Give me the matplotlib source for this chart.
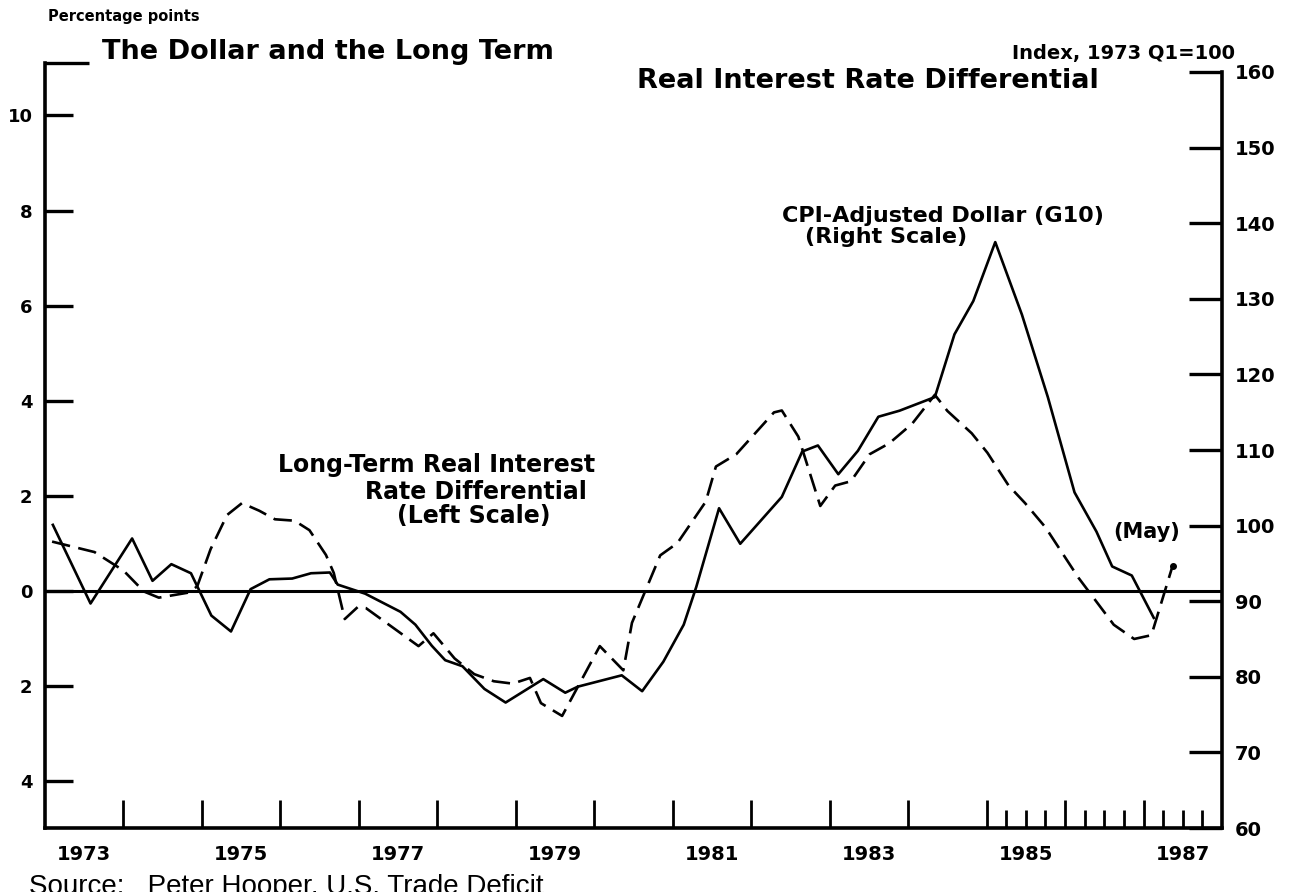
import numpy as np
import matplotlib.pyplot as plt

# CPI-adjusted dollar (G10), index 1973 Q1 = 100 (right scale)
dollar_years = [1973.10, 1973.58, 1974.11, 1974.37, 1974.61, 1974.86, 1975.12, 1975.37,
                1975.62, 1975.86, 1976.15, 1976.39, 1976.63, 1976.73, 1977.08, 1977.53,
                1977.72, 1977.93, 1978.10, 1978.32, 1978.60, 1978.87, 1979.35, 1979.63,
                1979.79, 1980.35, 1980.61, 1980.88, 1981.14, 1981.30, 1981.59, 1981.86,
                1982.39, 1982.65, 1982.85, 1983.11, 1983.36, 1983.62, 1983.89, 1984.34,
                1984.59, 1984.83, 1985.11, 1985.45, 1985.78, 1986.12, 1986.40, 1986.60,
                1986.85, 1987.13]
dollar_index = [100.1, 89.7, 98.3, 92.7, 94.9, 93.7, 88.1, 86.0,
                91.6, 92.9, 93.0, 93.7, 93.8, 92.2, 91.0, 88.6,
                86.9, 84.1, 82.2, 81.4, 78.4, 76.6, 79.7, 77.9,
                78.7, 80.2, 78.1, 82.0, 86.9, 91.9, 102.3, 97.6,
                103.8, 109.8, 110.6, 106.8, 109.9, 114.4, 115.2, 117.0,
                125.3, 129.7, 137.5, 127.9, 117.0, 104.4, 99.2, 94.6,
                93.4, 87.8]

# long-term real interest rate differential, percentage points (left scale)
diff_years = [1973.09, 1973.63, 1974.00, 1974.26, 1974.45, 1974.84, 1974.94, 1975.11,
              1975.32, 1975.51, 1975.73, 1975.93, 1976.18, 1976.37, 1976.58, 1976.68,
              1976.82, 1976.99, 1977.09, 1977.76, 1977.95, 1978.22, 1978.47, 1978.72,
              1978.96, 1979.18, 1979.32, 1979.59, 1980.07, 1980.37, 1980.48, 1980.84,
              1981.06, 1981.42, 1981.55, 1981.81, 1982.29, 1982.39, 1982.60, 1982.88,
              1983.07, 1983.27, 1983.51, 1983.76, 1984.05, 1984.34, 1984.50, 1984.81,
              1985.01, 1985.28, 1985.49, 1985.75, 1986.17, 1986.62, 1986.88, 1987.10,
              1987.37]
diff_pct = [1.03, 0.81, 0.42, -0.02, -0.15, -0.04, 0.09, 0.87,
            1.59, 1.84, 1.68, 1.50, 1.47, 1.27, 0.75, 0.37,
            -0.60, -0.34, -0.37, -1.17, -0.90, -1.43, -1.76, -1.91,
            -1.96, -1.84, -2.37, -2.64, -1.17, -1.68, -0.68, 0.74,
            1.00, 1.87, 2.61, 2.87, 3.75, 3.79, 3.24, 1.78,
            2.21, 2.30, 2.87, 3.10, 3.51, 4.12, 3.78, 3.31,
            2.90, 2.21, 1.84, 1.33, 0.27, -0.72, -1.02, -0.94,
            0.52]

left_ticks = [-4, -2, 0, 2, 4, 6, 8, 10]
left_labels = ["4", "2", "0", "2", "4", "6", "8", "10"]
right_ticks = [60, 70, 80, 90, 100, 110, 120, 130, 140, 150, 160]
year_labels = [1973, 1975, 1977, 1979, 1981, 1983, 1985, 1987]

FONT = "DejaVu Sans"
W, H = 1301, 892
lw_axis = 2.6
lw_line = 1.9

fig = plt.figure(figsize=(W / 100, H / 100), dpi=100)
ax = fig.add_axes([0.0346, 0.0717, 0.9047, 0.8574])
ax2 = ax.twinx()

ylo, yhi = -5, 11.1
ax.set_xlim(1973, 1988)
ax.set_ylim(ylo, yhi)
# right scale: 60 at the bottom, 6.283 index points per percentage point
ax2.set_ylim(60, 60 + (yhi - ylo) * 6.283)

ax.axhline(0, color="black", lw=2.2)
ax.plot(diff_years, diff_pct, color="black", lw=lw_line, dashes=(7, 3.2))
ax.plot(diff_years[-1:], diff_pct[-1:], "o", color="black", ms=4)
ax2.plot(dollar_years, dollar_index, color="black", lw=lw_line)

for a in (ax, ax2):
    for s in a.spines.values():
        s.set_linewidth(lw_axis)
    a.spines["top"].set_visible(False)
ax.spines["right"].set_visible(False)
ax2.spines["left"].set_visible(False)
ax2.spines["bottom"].set_visible(False)
ax2.spines["right"].set_bounds(60, 160)

# left scale
ax.set_yticks(left_ticks, left_labels)
ax.set_yticks([yhi], minor=True)
ax.tick_params(axis="y", which="major", direction="in", length=20, width=2.4,
               pad=9, labelsize=13)
ax.tick_params(axis="y", which="minor", direction="in", length=32, width=2.4)
for t in ax.get_yticklabels():
    t.set_fontweight("bold")

# right scale
ax2.set_yticks(right_ticks, [str(v) for v in right_ticks])
ax2.tick_params(axis="y", direction="in", length=24, width=2.4, pad=9, labelsize=14)
for t in ax2.get_yticklabels():
    t.set_fontweight("bold")

# time axis: yearly ticks, quarterly from 1985
yearly = np.arange(1974, 1988)
quarters = [q for q in np.arange(1985, 1988, 0.25) if q % 1 != 0]
ax.set_xticks(yearly, [""] * len(yearly))
ax.set_xticks(quarters, minor=True)
ax.tick_params(axis="x", which="major", direction="in", length=20, width=2.0)
ax.tick_params(axis="x", which="minor", direction="in", length=13, width=2.0)
for yr in year_labels:
    ax.text(yr + 0.5, -0.035, str(yr), transform=ax.get_xaxis_transform(),
            ha="center", va="center", fontsize=14, fontweight="bold", family=FONT)

# headings, placed in figure pixels
txt = dict(family=FONT, fontweight="bold", color="black")
fig.text(48 / W, 1 - 16 / H, "Percentage points", ha="left", va="center",
         fontsize=10.5, **txt)
fig.text(102 / W, 1 - 52 / H, "The Dollar and the Long Term", ha="left", va="center",
         fontsize=19.5, **txt)
fig.text(637 / W, 1 - 81 / H, "Real Interest Rate Differential", ha="left", va="center",
         fontsize=19.5, **txt)
fig.text(1235 / W, 1 - 54 / H, "Index, 1973 Q1=100", ha="right", va="center",
         fontsize=14, **txt)

# series notes, placed in data units
txt["clip_on"] = False
ax.text(1982.39, 7.88, "CPI-Adjusted Dollar (G10)", ha="left", va="center",
        fontsize=16, **txt)
ax.text(1982.69, 7.45, "(Right Scale)", ha="left", va="center", fontsize=16, **txt)
ax.text(1975.97, 2.65, "Long-Term Real Interest", ha="left", va="center", fontsize=17, **txt)
ax.text(1977.08, 2.08, "Rate Differential", ha="left", va="center", fontsize=17, **txt)
ax.text(1977.49, 1.57, "(Left Scale)", ha="left", va="center", fontsize=17, **txt)
ax.text(1986.62, 1.24, "(May)", ha="left", va="center", fontsize=15, **txt)

fig.text(29 / W, 1 - 887 / H, "Source:   Peter Hooper, U.S. Trade Deficit", ha="left",
         va="center", fontsize=20, family="Liberation Sans")

fig.savefig("out.png", dpi=100)
